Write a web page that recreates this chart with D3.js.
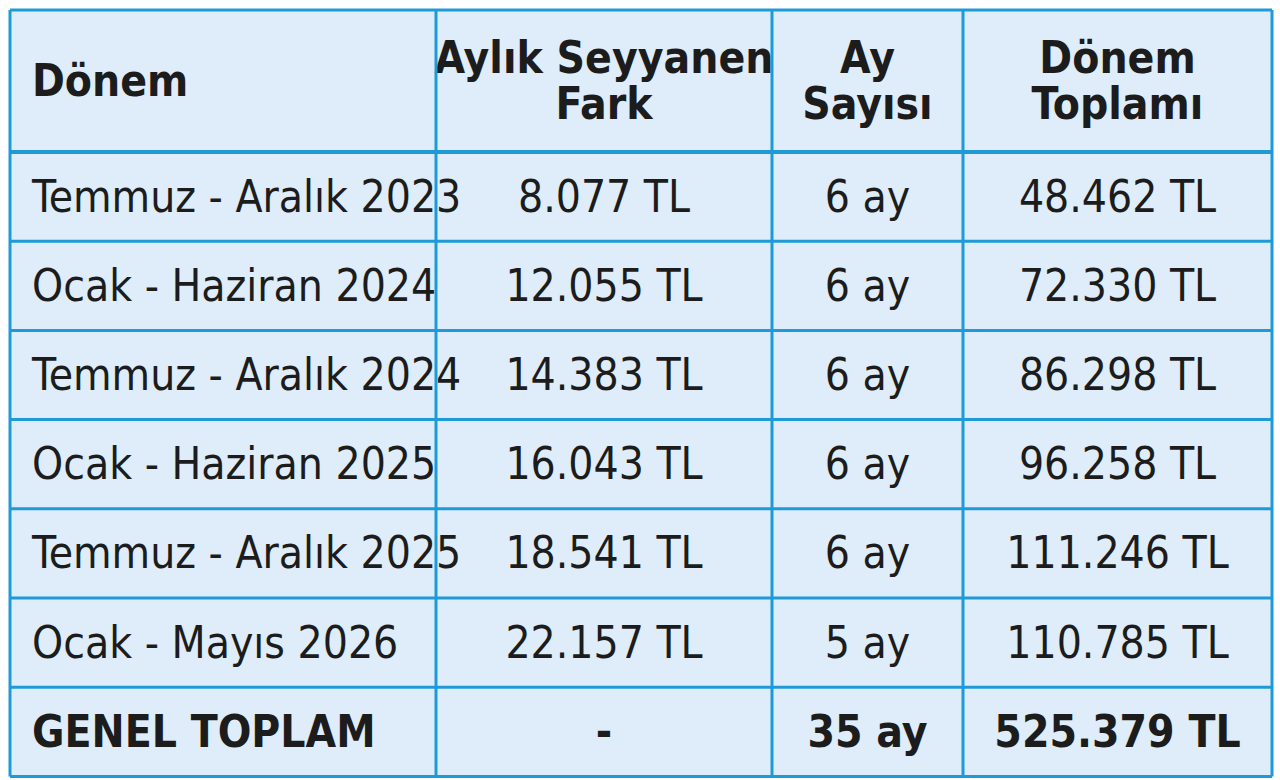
<!DOCTYPE html>
<html><head><meta charset="utf-8">
<script src="https://cdn.jsdelivr.net/npm/d3@7"></script>
<style>
body{margin:0;background:#fff;}
text{font-family:"Liberation Sans Narrow","DejaVu Sans Condensed","Roboto",sans-serif;fill:#1c1c1c;}
</style></head><body>
<svg id="c" width="1280" height="780"></svg>
<script>
const headers = [["Dönem"], ["Aylık Seyyanen", "Fark"], ["Ay", "Sayısı"], ["Dönem", "Toplamı"]];
const periods = ["Temmuz - Aralık 2023", "Ocak - Haziran 2024", "Temmuz - Aralık 2024", "Ocak - Haziran 2025", "Temmuz - Aralık 2025", "Ocak - Mayıs 2026"];
const monthlyDiff = ["8.077 TL", "12.055 TL", "14.383 TL", "16.043 TL", "18.541 TL", "22.157 TL"];
const months = ["6 ay", "6 ay", "6 ay", "6 ay", "6 ay", "5 ay"];
const periodTotals = ["48.462 TL", "72.330 TL", "86.298 TL", "96.258 TL", "111.246 TL", "110.785 TL"];
const totalRow = ["GENEL TOPLAM", "-", "35 ay", "525.379 TL"];

const colEdges = [10, 436, 772, 963, 1272];
const headerH = 142, rowH = 89.2, tableTop = 10;
const svg = d3.select("#c");
const rows = periods.map((p, i) => [p, monthlyDiff[i], months[i], periodTotals[i]]);
rows.push(totalRow);
const totalH = headerH + rows.length * rowH;

svg.append("rect").attr("x", colEdges[0]).attr("y", tableTop)
  .attr("width", colEdges[4] - colEdges[0]).attr("height", totalH)
  .attr("fill", "#deedf9");

const cx = i => (colEdges[i] + colEdges[i + 1]) / 2;
const anchor = i => i === 0 ? "start" : "middle";
const tx = i => i === 0 ? 32 : cx(i);

// header
headers.forEach((h, i) => {
  const cy = tableTop + headerH / 2;
  h.forEach((line, j) => {
    svg.append("text").attr("x", tx(i)).attr("y", cy + (j - (h.length - 1) / 2) * 46 + 15)
      .attr("text-anchor", anchor(i)).attr("font-size", 44).attr("font-weight", "bold")
      .text(line);
  });
});

rows.forEach((r, k) => {
  const cy = tableTop + headerH + k * rowH + rowH / 2;
  const bold = k === rows.length - 1;
  r.forEach((v, i) => {
    svg.append("text").attr("x", tx(i)).attr("y", cy + 15)
      .attr("text-anchor", anchor(i)).attr("font-size", 44)
      .attr("font-weight", bold ? "bold" : "normal").text(v);
  });
});

// grid lines
const ys = [tableTop, tableTop + headerH].concat(rows.map((_, k) => tableTop + headerH + (k + 1) * rowH));
ys.forEach((y, k) => {
  svg.append("line").attr("x1", colEdges[0]).attr("x2", colEdges[4]).attr("y1", y).attr("y2", y)
    .attr("stroke", "#1f9ad8").attr("stroke-width", k === 1 ? 4 : 3);
});
colEdges.forEach(x => {
  svg.append("line").attr("x1", x).attr("x2", x).attr("y1", tableTop).attr("y2", tableTop + totalH)
    .attr("stroke", "#1f9ad8").attr("stroke-width", 3);
});
</script></body></html>
